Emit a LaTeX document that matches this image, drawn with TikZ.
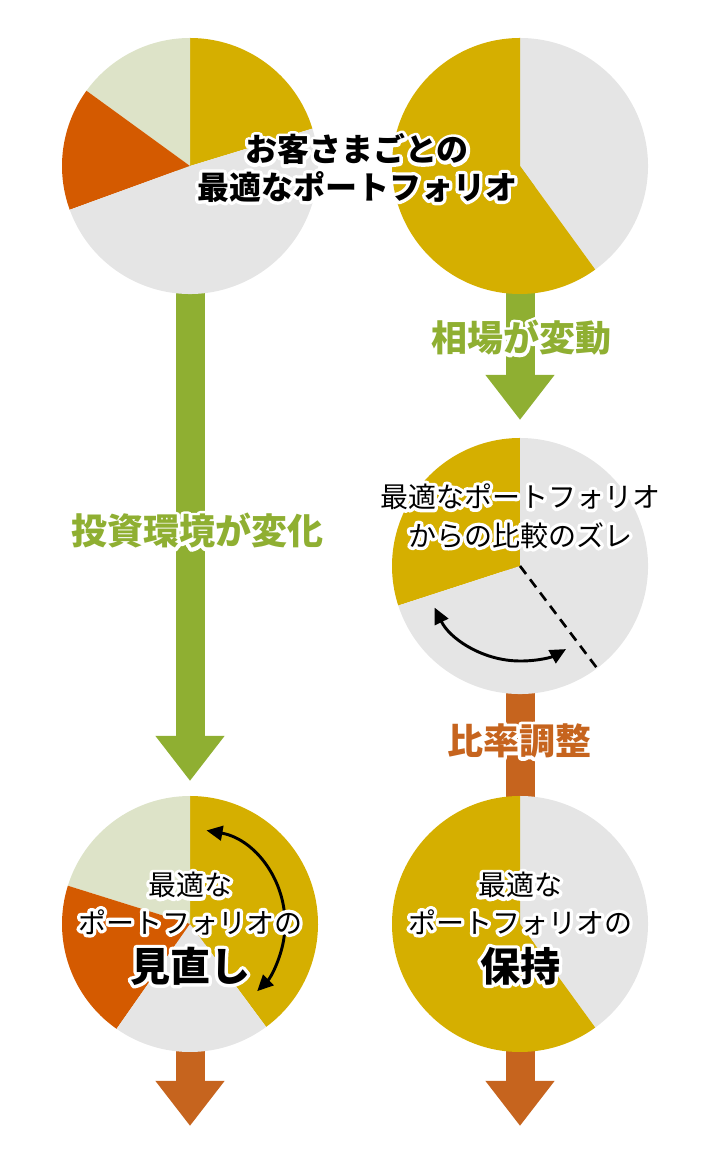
\documentclass[tikz,border=0pt]{standalone}
\usepackage{fontspec}
\newfontfamily\jpfont{Noto Sans CJK JP}
\usepackage{tikz}
\usetikzlibrary{arrows.meta, calc, positioning}
\definecolor{goldcolor}{RGB}{213,175,0}
\definecolor{orangecolor}{RGB}{212,90,0}
\definecolor{palecolor}{RGB}{221,227,200}
\definecolor{graycolor}{RGB}{229,229,229}
\definecolor{greencolor}{RGB}{143,175,50}
\definecolor{browncolor}{RGB}{198,100,30}
\newcommand{\pieslice}[4]{\fill[#4] (#1) -- ++(#2:128) arc[start angle=#2, end angle=#3, radius=128] -- cycle;}
\newcommand{\halotext}[4]{% style, name, position, text
  \node[#1, text=white, execute at begin node={\special{pdf:code 2 Tr 5 w 1 j}}] at (#3) {#4};
  \node[#1] (#2) at (#3) {#4};}

\begin{document}
\begin{tikzpicture}[
    x=0.75pt, y=0.75pt,
    greenarr/.style={line width=21.75pt, greencolor, -{Triangle[length=33.75pt, width=49.5pt]}},
    brownarr/.style={line width=21.75pt, browncolor, -{Triangle[length=33.75pt, width=49.5pt]}},
    swing/.style={line width=2.2pt, {Triangle[length=12pt, width=11pt]}-{Triangle[length=12pt, width=11pt]}},
    title/.style={font=\jpfont\bfseries\fontsize{24}{28}\selectfont, align=center, inner sep=0pt},
    note/.style={font=\jpfont\fontsize{21}{29}\selectfont, align=center, inner sep=0pt},
    small/.style={font=\jpfont\fontsize{21}{28}\selectfont, align=center, inner sep=0pt},
    big/.style={font=\jpfont\bfseries\fontsize{30}{34}\selectfont, inner sep=0pt},
    greenlabel/.style={font=\jpfont\bfseries\fontsize{27}{30}\selectfont, text=greencolor, inner sep=0pt},
    brownlabel/.style={font=\jpfont\bfseries\fontsize{27}{30}\selectfont, text=browncolor, inner sep=0pt}
]
\useasboundingbox (0,0) rectangle (710,1167);
\coordinate (optA) at (190,1001);
\coordinate (optB) at (520,1001);
\coordinate (drift) at (520,601);
\coordinate (review) at (190,243);
\coordinate (keep) at (520,243);
\coordinate (tipA) at (190,386);
\coordinate (tipB) at (520,747);
\coordinate (endD) at (190,41);
\coordinate (endE) at (520,41);
\coordinate (driftedge) at ($(drift)+(-53:128)$);

% arrows behind the pies
\draw[greenarr] (optA) -- (tipA);
\draw[greenarr] (optB) -- (tipB);
\draw[line width=21.75pt, browncolor] (drift) -- (keep);
\draw[brownarr] (review) -- (endD);
\draw[brownarr] (keep) -- (endE);

% pies
\pieslice{optA}{17}{90}{goldcolor}
\pieslice{optA}{90}{144}{palecolor}
\pieslice{optA}{144}{200}{orangecolor}
\pieslice{optA}{200}{377}{graycolor}
\pieslice{optB}{-54}{90}{graycolor}
\pieslice{optB}{90}{306}{goldcolor}
\pieslice{drift}{90}{198}{goldcolor}
\pieslice{drift}{198}{450}{graycolor}
\pieslice{review}{-53.5}{90}{goldcolor}
\pieslice{review}{90}{162.6}{palecolor}
\pieslice{review}{162.6}{235}{orangecolor}
\pieslice{review}{235}{306.5}{graycolor}
\pieslice{keep}{-54}{90}{graycolor}
\pieslice{keep}{90}{306}{goldcolor}

\draw[line width=2pt, dash pattern=on 7.5pt off 5pt] (drift) -- (driftedge);
\draw[swing] ($(drift)+(206:95)$) arc[start angle=206, end angle=299, radius=95];
\draw[swing] ($(review)+(80:95)$) arc[start angle=80, end angle=-45, radius=95];

% texts
\halotext{title}{header}{357,999}{お客さまごとの\\最適なポートフォリオ}
\halotext{greenlabel}{market}{521,829}{相場が変動}
\halotext{greenlabel}{climate}{197,636}{投資環境が変化}
\halotext{note}{gap}{520,651}{最適なポートフォリオ\\からの比較のズレ}
\halotext{brownlabel}{ratio}{519,426}{比率調整}
\halotext{small}{reviewtext}{190,263.5}{最適な\\ポートフォリオの}
\halotext{big}{reviewbig}{190,201}{見直し}
\halotext{small}{keeptext}{520,263.5}{最適な\\ポートフォリオの}
\halotext{big}{keepbig}{520,201}{保持}
\end{tikzpicture}
\end{document}
